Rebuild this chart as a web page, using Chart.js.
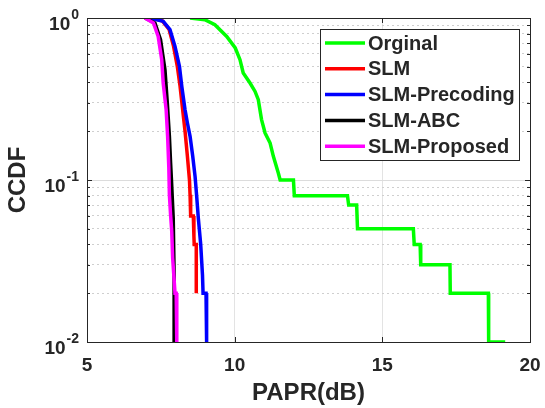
<!DOCTYPE html>
<html>
<head>
<meta charset="utf-8">
<script src="https://cdn.jsdelivr.net/npm/chart.js@4/dist/chart.umd.min.js"></script>
<style>
  html, body { margin: 0; padding: 0; background: #fff; }
  #wrap { width: 545px; height: 408px; position: relative; }
</style>
</head>
<body>
<div id="wrap"><canvas id="ccdfChart"></canvas></div>
<script>
// values
var seriesNames = ['Orginal', 'SLM', 'SLM-Precoding', 'SLM-ABC', 'SLM-Proposed'];
var seriesColors = ['#00ff00', '#ff0000', '#0000ff', '#000000', '#ff00ff'];

var origX = [8.49, 8.99, 9.33, 9.73, 10.02, 10.18, 10.29, 10.52, 10.69, 10.80, 10.91, 11.03, 11.20, 11.31, 11.48, 11.54, 11.99, 12.02, 13.82, 13.86, 14.13, 14.16, 16.05, 16.08, 16.28, 16.30, 17.29, 17.30, 18.59, 18.60, 19.16];
var origY = [1.0, 0.976, 0.909, 0.77, 0.653, 0.553, 0.458, 0.397, 0.352, 0.313, 0.236, 0.195, 0.169, 0.140, 0.110, 0.10, 0.10, 0.08, 0.08, 0.07, 0.07, 0.05, 0.05, 0.04, 0.04, 0.03, 0.03, 0.02, 0.02, 0.01, 0.01];

var slmX = [7.20, 7.55, 7.78, 7.93, 8.06, 8.15, 8.24, 8.32, 8.40, 8.45, 8.47, 8.49, 8.51, 8.60, 8.62, 8.63, 8.70, 8.70];
var slmY = [1.0, 0.96, 0.85, 0.67, 0.50, 0.38, 0.27, 0.20, 0.14, 0.11, 0.10, 0.081, 0.06, 0.06, 0.045, 0.04, 0.04, 0.02];

var precX = [7.13, 7.58, 7.81, 7.98, 8.13, 8.21, 8.32, 8.40, 8.49, 8.58, 8.66, 8.71, 8.77, 8.85, 8.91, 8.93, 9.03, 9.05, 9.08];
var precY = [1.0, 0.953, 0.847, 0.668, 0.503, 0.378, 0.271, 0.225, 0.186, 0.140, 0.105, 0.081, 0.058, 0.040, 0.026, 0.02, 0.02, 0.01, 0.01];

var abcX = [6.96, 7.30, 7.49, 7.64, 7.72, 7.79, 7.83, 7.86, 7.92, 7.95, 7.95];
var abcY = [1.0, 0.931, 0.735, 0.48, 0.298, 0.186, 0.128, 0.10, 0.058, 0.026, 0.01];

var propX = [6.96, 7.25, 7.41, 7.53, 7.58, 7.68, 7.73, 7.77, 7.79, 7.83, 7.87, 7.90, 7.98, 8.02, 8.04];
var propY = [1.0, 0.931, 0.77, 0.553, 0.397, 0.271, 0.186, 0.12, 0.081, 0.061, 0.048, 0.033, 0.02, 0.02, 0.01];

var xTicks = [5, 10, 15, 20];
var yDecades = [0.01, 0.1, 1];
var yDecadeExp = ['-2', '-1', '0'];
var yMantissas = [1, 2, 3, 4, 5, 6, 7, 8, 9];

var FONT = "'Liberation Sans', Arial, sans-serif";

var toPoints = function(xs, ys) {
  var pts = [];
  for (var i = 0; i < xs.length; i++) {
    pts.push({x: xs[i], y: ys[i]});
  }
  return pts;
};

var allX = [origX, slmX, precX, abcX, propX];
var allY = [origY, slmY, precY, abcY, propY];

var yGrid = [];
for (var d = 0; d < yDecades.length; d++) {
  for (var m = 0; m < yMantissas.length; m++) {
    var v = +(yDecades[d] * yMantissas[m]).toPrecision(3);
    if (v <= 1) yGrid.push(v);
  }
}
var isDecade = function(v) {
  return yDecades.indexOf(v) >= 0;
};

var datasets = [];
for (var k = 0; k < seriesNames.length; k++) {
  datasets.push({
    label: seriesNames[k],
    data: toPoints(allX[k], allY[k]),
    borderColor: seriesColors[k],
    backgroundColor: seriesColors[k],
    borderWidth: 3.5,
    pointRadius: 0,
    tension: 0,
    fill: false,
    order: seriesNames.length - k
  });
}

// axes box, inward ticks, 10^n labels and the boxed legend
var matlabLook = {
  id: 'matlabLook',
  afterDraw: function(chart) {
    var ctx = chart.ctx;
    var a = chart.chartArea;
    var xs = chart.scales.x, ys = chart.scales.y;
    ctx.save();

    // inward ticks
    ctx.strokeStyle = '#262626';
    ctx.lineWidth = 1;
    ctx.beginPath();
    for (var i = 0; i < xTicks.length; i++) {
      var px = Math.round(xs.getPixelForValue(xTicks[i])) + 0.5;
      ctx.moveTo(px, a.bottom); ctx.lineTo(px, a.bottom - 5);
      ctx.moveTo(px, a.top); ctx.lineTo(px, a.top + 5);
    }
    for (var j = 0; j < yGrid.length; j++) {
      var py = Math.round(ys.getPixelForValue(yGrid[j])) + 0.5;
      var len = isDecade(yGrid[j]) ? 5 : 3;
      ctx.moveTo(a.left, py); ctx.lineTo(a.left + len, py);
      ctx.moveTo(a.right, py); ctx.lineTo(a.right - len, py);
    }
    ctx.stroke();

    // box
    ctx.strokeRect(Math.round(a.left) + 0.5, Math.round(a.top) + 0.5,
      Math.round(a.right - a.left), Math.round(a.bottom - a.top));

    // y tick labels 10^n
    ctx.fillStyle = '#262626';
    ctx.textBaseline = 'alphabetic';
    ctx.textAlign = 'right';
    for (var n = 0; n < yDecades.length; n++) {
      var ty = ys.getPixelForValue(yDecades[n]);
      var rx = a.left - 8;
      ctx.font = 'bold 14px ' + FONT;
      var w = ctx.measureText(yDecadeExp[n]).width;
      ctx.fillText(yDecadeExp[n], rx, ty + 1);
      ctx.font = 'bold 19px ' + FONT;
      ctx.fillText('10', rx - w - 1, ty + 12);
    }

    // legend
    var lw = 199, lh = 131;
    var lx = Math.round(a.right - 11 - lw), ly = Math.round(a.top + 11);
    ctx.fillStyle = '#ffffff';
    ctx.fillRect(lx, ly, lw, lh);
    ctx.strokeStyle = '#262626';
    ctx.strokeRect(lx + 0.5, ly + 0.5, lw, lh);
    ctx.font = 'bold 20px ' + FONT;
    ctx.textAlign = 'left';
    ctx.textBaseline = 'middle';
    var dsets = chart.data.datasets;
    for (var r = 0; r < dsets.length; r++) {
      var ry = ly + 14 + r * 25.8;
      ctx.strokeStyle = dsets[r].borderColor;
      ctx.lineWidth = 3.5;
      ctx.beginPath();
      ctx.moveTo(lx + 5, ry); ctx.lineTo(lx + 45, ry);
      ctx.stroke();
      ctx.fillStyle = '#262626';
      ctx.fillText(dsets[r].label, lx + 48, ry + 1);
    }
    ctx.restore();
  }
};

new Chart(document.getElementById('ccdfChart').getContext('2d'), {
  type: 'line',
  data: {datasets: datasets},
  options: {
    responsive: true,
    maintainAspectRatio: false,
    animation: false,
    devicePixelRatio: 1,
    layout: {padding: {left: 0, right: 15, top: 18, bottom: 0}},
    plugins: {
      legend: {display: false},
      tooltip: {enabled: false}
    },
    scales: {
      x: {
        type: 'linear',
        min: 5,
        max: 20,
        afterBuildTicks: function(scale) {
          scale.ticks = xTicks.map(function(v) { return {value: v}; });
        },
        afterFit: function(scale) {
          scale.height = 66;
          scale.paddingLeft = 0;
          scale.paddingRight = 0;
        },
        ticks: {
          color: '#262626',
          font: {family: FONT, size: 19, weight: 'bold'},
          padding: 12,
          maxRotation: 0
        },
        grid: {color: '#e3e3e3', lineWidth: 1, drawTicks: false},
        border: {display: false},
        title: {
          display: true,
          text: 'PAPR(dB)',
          color: '#262626',
          font: {family: FONT, size: 24, weight: 'bold'},
          padding: {top: 0, bottom: 0}
        }
      },
      y: {
        type: 'logarithmic',
        min: 0.01,
        max: 1,
        afterBuildTicks: function(scale) {
          scale.ticks = yGrid.map(function(v) { return {value: v}; });
        },
        afterFit: function(scale) {
          scale.width = 87;
          scale.paddingTop = 0;
          scale.paddingBottom = 0;
        },
        ticks: {display: false},
        grid: {
          drawTicks: false,
          lineWidth: 1,
          color: function(c) {
            return c.tick && isDecade(c.tick.value) ? '#dcdcdc' : '#cfcfcf';
          }
        },
        border: {
          display: false,
          dash: function(c) {
            return c.tick && isDecade(c.tick.value) ? [] : [2, 3];
          }
        },
        title: {
          display: true,
          text: 'CCDF',
          color: '#262626',
          font: {family: FONT, size: 24, weight: 'bold'},
          padding: {top: 4, bottom: 0}
        }
      }
    }
  },
  plugins: [matlabLook]
});
</script>
</body>
</html>
